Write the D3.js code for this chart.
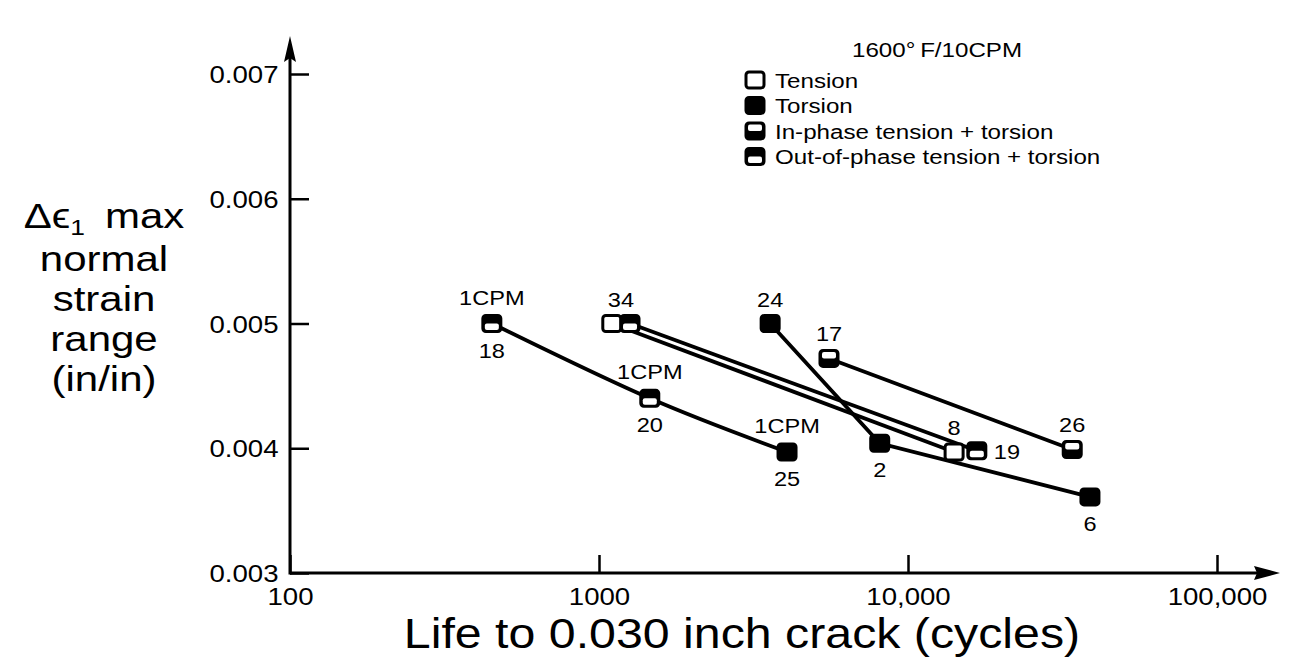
<!DOCTYPE html>
<html>
<head>
<meta charset="utf-8">
<script src="https://cdn.jsdelivr.net/npm/d3@7"></script>
<style>
body { margin: 0; background: #fff; }
text { font-family: "Liberation Sans", Helvetica, Arial, sans-serif; fill: #000; }
</style>
</head>
<body>
<main></main>
<script>
// one entry per specimen marker
var specimen = [18, 20, 25, 34, 34, 8, 19, 24, 2, 6, 17, 26]
var life = [450, 1460, 4060, 1100, 1260, 14100, 16700, 3580, 8100, 38800, 5550, 34000]
var strain = [0.0050, 0.0044, 0.00397, 0.0050, 0.0050, 0.00397, 0.00398, 0.0050, 0.00404, 0.00361, 0.00472, 0.00399]
var testType = ["out", "out", "torsion", "tension", "out", "tension", "out", "torsion", "torsion", "torsion", "in", "in"]
var rate = ["1CPM", "1CPM", "1CPM", "", "", "", "", "", "", "", "", ""]
var labelSide = ["below", "below", "below", "above", "above", "above", "right", "above", "below", "below", "above", "above"]

// markers joined by a line, in order
var curves = [[0, 1, 2], [3, 5], [4, 6], [7, 8, 9], [10, 11]]
var smooth = [true, false, false, false, false]

var legendTitle = "1600\u00b0\u2009F/10CPM"
var legendTypes = ["tension", "torsion", "in", "out"]
var legendNames = ["Tension", "Torsion", "In-phase tension + torsion", "Out-of-phase tension + torsion"]

var xTicks = [100, 1000, 10000, 100000]
var xTickLabels = ["100", "1000", "10,000", "100,000"]
var yTicks = [0.003, 0.004, 0.005, 0.006, 0.007]
var yTickLabels = ["0.003", "0.004", "0.005", "0.006", "0.007"]

var xTitle = "Life to 0.030 inch crack (cycles)"
var yTitle = ["normal", "strain", "range", "(in/in)"]

var SX = 1.15  // the scan's lettering is wider than Helvetica

var svg = d3.select("main")
    .append("svg")
    .attr("width", 1291)
    .attr("height", 671)
    .style("display", "block")

var x = d3.scaleLog()
    .domain([100, 100000])
    .range([290, 1217])

var y = d3.scaleLinear()
    .domain([0.003, 0.007])
    .range([573, 74])

function word(g, px, py, str, size, anchor, sx) {
    return g.append("text")
        .attr("transform", "translate(" + px + "," + py + ") scale(" + (sx || SX) + ",1)")
        .attr("text-anchor", anchor || "middle")
        .style("font-size", size + "px")
        .text(str)
}

// axes
var xAxis = d3.axisBottom(x)
    .tickValues(xTicks)
    .tickFormat(function(d, i) { return xTickLabels[i] })
    .tickSize(-18)
    .tickPadding(15)

var xGuide = svg.append("g")
    .attr("transform", "translate(0," + y(0.003) + ")")
    .call(xAxis)

var yAxis = d3.axisLeft(y)
    .tickValues(yTicks)
    .tickFormat(function(d, i) { return yTickLabels[i] })
    .tickSize(-19)
    .tickPadding(10)

var yGuide = svg.append("g")
    .attr("transform", "translate(" + x(100) + ",0)")
    .call(yAxis)

svg.selectAll(".domain").remove()
svg.selectAll(".tick line").attr("stroke", "#000").attr("stroke-width", 2.5)
svg.selectAll(".tick text")
    .attr("fill", "#000")
    .style("font-family", "'Liberation Sans', Helvetica, Arial, sans-serif")
    .style("font-size", "24px")
    .attr("transform", "scale(" + SX + ",1)")
yGuide.selectAll(".tick text").attr("dy", "0.36em")

var x0 = x(100), y0 = y(0.003)
svg.append("line")
    .attr("x1", x0).attr("y1", y0)
    .attr("x2", 1262).attr("y2", y0)
    .attr("stroke", "#000").attr("stroke-width", 3)
svg.append("line")
    .attr("x1", x0).attr("y1", y0 + 1.5)
    .attr("x2", x0).attr("y2", 52)
    .attr("stroke", "#000").attr("stroke-width", 3)
svg.append("path")
    .attr("d", "M1280," + y0 + "L1254," + (y0 - 7) + "L1257," + y0 + "L1254," + (y0 + 7) + "Z")
    .attr("fill", "#000")
svg.append("path")
    .attr("d", "M" + x0 + ",36L" + (x0 - 6) + ",62L" + x0 + ",58L" + (x0 + 6) + ",62Z")
    .attr("fill", "#000")

// axis titles
word(svg, 742, 648, xTitle, 42)

var yt = svg.append("text")
    .attr("transform", "translate(104,228) scale(1.2,1)")
    .attr("text-anchor", "middle")
    .style("font-size", "35px")
yt.append("tspan").text("\u0394\u03f5")
yt.append("tspan").attr("dy", 7).style("font-size", "22px").text("1")
yt.append("tspan").attr("dy", -7).text("\u2009 max")
yTitle.forEach(function(t, i) {
    word(svg, 104, 271 + i * 40, t, 35, "middle", 1.2)
})

// connecting lines
var line = d3.line()
    .x(function(i) { return x(life[i]) })
    .y(function(i) { return y(strain[i]) })

svg.append("g")
    .selectAll("path").data(curves)
    .enter().append("path")
        .attr("d", function(d, k) {
            return line.curve(smooth[k] ? d3.curveNatural : d3.curveLinear)(d)
        })
        .attr("fill", "none")
        .attr("stroke", "#000")
        .attr("stroke-width", 3.8)

function marker(g, type) {
    var w = 21, h = 19
    g.append("rect")
        .attr("x", -w / 2 + 1.5).attr("y", -h / 2 + 1.5)
        .attr("width", w - 3).attr("height", h - 3)
        .attr("rx", 3)
        .attr("fill", type == "tension" ? "#fff" : "#000")
        .attr("stroke", "#000")
        .attr("stroke-width", 3)
    if (type == "in" || type == "out") {
        g.append("rect")
            .attr("x", -w / 2 + 3.5)
            .attr("y", type == "in" ? -h / 2 + 3 : h / 2 - 9.5)
            .attr("width", w - 7).attr("height", 6.5)
            .attr("rx", 2)
            .attr("fill", "#fff")
    }
}

var points = svg.append("g")
    .selectAll("g").data(d3.range(specimen.length))
    .enter().append("g")
        .attr("transform", function(i) {
            return "translate(" + x(life[i]) + "," + y(strain[i]) + ")"
        })
points.each(function(i) { marker(d3.select(this), testType[i]) })

// specimen numbers and rate notes
var labels = svg.append("g")
d3.groups(d3.range(specimen.length), function(i) { return specimen[i] })
    .forEach(function(grp) {
        var idx = grp[1]
        var i = idx[0]
        var px = d3.mean(idx, function(j) { return x(life[j]) })
        var py = y(strain[i])
        if (labelSide[i] == "above") word(labels, px, py - 17, String(specimen[i]), 20.5)
        if (labelSide[i] == "below") word(labels, px, py + 34, String(specimen[i]), 20.5)
        if (labelSide[i] == "right") word(labels, px + 17, py + 8, String(specimen[i]), 20.5, "start")
        if (rate[i]) word(labels, px, py - 19, rate[i], 20.5)
    })

// legend
var legend = svg.append("g")
word(legend, 937, 57, legendTitle, 21)
var rows = legend.selectAll("g").data(legendTypes)
    .enter().append("g")
        .attr("transform", function(d, i) { return "translate(755," + (80 + i * 25.5) + ")" })
rows.each(function(d, i) {
    marker(d3.select(this), d)
    word(d3.select(this), 20, 7.5, legendNames[i], 21, "start")
})
</script>
</body>
</html>
